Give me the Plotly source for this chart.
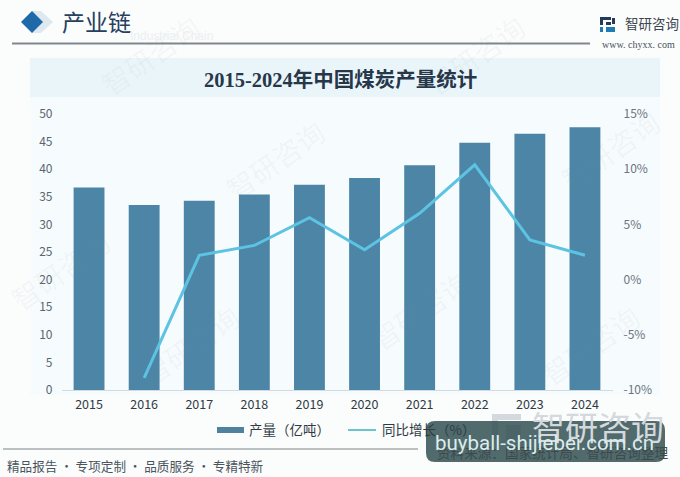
import plotly.graph_objects as go

W, H = 680, 477

years = ["2015", "2016", "2017", "2018", "2019", "2020", "2021", "2022", "2023", "2024"]
output_values = [36.7, 33.5, 34.3, 35.4, 37.2, 38.4, 40.7, 44.8, 46.4, 47.6]
growth_values = [None, -8.9, 2.2, 3.1, 5.6, 2.7, 6.0, 10.4, 3.6, 2.2]
left_ticks = [0, 5, 10, 15, 20, 25, 30, 35, 40, 45, 50]
right_ticks = [-10, -5, 0, 5, 10, 15]
right_tick_labels = ["-10%", "-5%", "0%", "5%", "10%", "15%"]

output_name = "产量（亿吨）"
growth_name = "同比增长（%）"
chart_title = "2015-2024年中国煤炭产量统计"
section_title = "产业链"
section_ghost = "Industrial Chain"
footer_text = "精品报告 · 专项定制 · 品质服务 · 专精特新"
source_text = "资料来源：国家统计局、智研咨询整理"
overlay_text = "buyball-shijiebei.com.cn"
brand = "智研咨询"
brand_site = "www. chyxx. com"
watermark_spots = [(150, 55), (275, 160), (475, 55), (610, 150),
                   (60, 270), (420, 310), (190, 345), (590, 345)]

SANS = "Noto Sans CJK SC"
SERIF = "Liberation Serif, Noto Sans CJK SC"


def px(x):
    return x / W


def py(y):
    return 1 - y / H


def rect(x0, y0, x1, y1, color, layer="below"):
    return dict(type="rect", xref="paper", yref="paper", x0=px(x0), x1=px(x1),
                y0=py(y0), y1=py(y1), fillcolor=color, line_width=0, layer=layer)


def label(x, y, text, size, color, font=SANS, anchor="center", angle=0, **kw):
    return dict(xref="paper", yref="paper", x=px(x), y=py(y), text=text, showarrow=False,
                xanchor=anchor, yanchor="middle", textangle=angle,
                font=dict(family=font, size=size, color=color), **kw)


def rounded_path(x0, y0, x1, y1, r):
    # rounded rectangle in paper fractions, radius given in pixels
    rx, ry = r / W, r / H
    a, b, c, d = px(x0), px(x1), py(y0), py(y1)
    return (f"M{a + rx},{c} L{b - rx},{c} Q{b},{c} {b},{c - ry} L{b},{d + ry} Q{b},{d} {b - rx},{d} "
            f"L{a + rx},{d} Q{a},{d} {a},{d + ry} L{a},{c - ry} Q{a},{c} {a + rx},{c} Z")


fig = go.Figure()
fig.add_bar(x=years, y=output_values, name=output_name, marker=dict(color="#4d85a6", line_width=0),
            yaxis="y", showlegend=False)
fig.add_scatter(x=years, y=growth_values, name=growth_name, mode="lines", yaxis="y2",
                line=dict(color="#5cc3e2", width=3), showlegend=False)

shapes = [
    rect(30, 58, 660, 97, "#eaf5fa"),
    rect(30, 97, 660, 395, "#f6fbfd"),
    rect(12, 42.5, 590, 44.5, "#7f878d"),
    rect(3, 448.5, 418, 449.5, "#7d858a"),
    dict(type="path", xref="paper", yref="paper", layer="below", line_width=0, fillcolor="#dfe8ef",
         path=f"M{px(32)},{py(11)} L{px(41)},{py(11)} L{px(53)},{py(22)} L{px(41)},{py(33)} L{px(32)},{py(33)} Z"),
    dict(type="path", xref="paper", yref="paper", layer="below", line_width=0, fillcolor="#1f69a8",
         path=f"M{px(21)},{py(22)} L{px(32)},{py(11)} L{px(43)},{py(22)} L{px(32)},{py(33)} Z"),
    # legend swatches
    rect(217, 427, 244, 433, "#4f829c"),
    rect(348, 429, 376, 431, "#6cc5cc"),
    # logo mark
    rect(600, 17, 603, 25, "#243a5a"),
    rect(600, 17, 611, 20, "#243a5a"),
    rect(606, 22, 611, 25, "#243a5a"),
    rect(612, 18, 615, 24, "#243a5a"),
    rect(600, 27, 603, 32, "#1f7ab8"),
    rect(606, 27, 615, 32, "#1f7ab8"),
    # faint logo behind the caption plate
    rect(492, 414, 521, 420, "#d3d9dd"),
    rect(492, 414, 498, 440, "#d3d9dd"),
    rect(506, 425, 521, 440, "#d3d9dd"),
    # translucent caption plate
    dict(type="path", xref="paper", yref="paper", layer="above", line_width=0,
         fillcolor="rgba(48,78,80,0.84)", path=rounded_path(426, 421, 665, 462, 9)),
]

annotations = [label(x, y, brand, 28, "rgba(120,135,150,0.06)", angle=-35) for x, y in watermark_spots]
annotations += [
    label(215, 36, section_ghost, 12, "#eceff1", font="Liberation Sans", anchor="right"),
    label(60, 24, section_title, 23, "#26405e", font=SERIF, anchor="left"),
    label(623, 23, brand, 13.5, "#3c4650", anchor="left"),
    label(677, 44, brand_site, 10, "#47525c", font="Liberation Serif", anchor="right"),
    label(340, 79, f"<b>{chart_title}</b>", 20.5, "#26374a", font=SERIF),
    label(5, 465, footer_text, 12.6, "#4a545c", anchor="left"),
    label(247, 429, output_name, 13.5, "#2f3b44", anchor="left"),
    label(380, 429, growth_name, 13.5, "#2f3b44", anchor="left"),
    label(530, 426, brand, 33, "#d3d9dd", anchor="left"),
    label(670, 452, source_text, 13.6, "#3d4a4c", anchor="right"),
    label(544.5, 443, overlay_text, 20.5, "#dcecec", font="Roboto"),
]

fig.update_layout(
    width=W, height=H, autosize=False,
    margin=dict(l=0, r=0, t=0, b=0, autoexpand=False),
    paper_bgcolor="#fbfcfc", plot_bgcolor="rgba(0,0,0,0)",
    bargap=0.44, shapes=shapes, annotations=annotations,
    font=dict(family=SANS, color="#4b5560", size=12),
    xaxis=dict(domain=[px(61.5), px(612.5)], type="category", showgrid=False, showline=True,
               linecolor="#d5dade", linewidth=1, ticks="", tickfont=dict(size=12.5, color="#2f3b44"),
               ticklabelstandoff=3),
    yaxis=dict(domain=[py(390), py(114)], range=[0, 50], tickvals=left_ticks, showgrid=False,
               zeroline=False, showline=False, ticks="", tickfont=dict(size=12, color="#5a6570"),
               ticklabelstandoff=8),
    yaxis2=dict(overlaying="y", side="right", anchor="x", range=[-10, 15], tickvals=right_ticks,
                ticktext=right_tick_labels, showgrid=False, zeroline=False, showline=False,
                ticks="", tickfont=dict(size=12, color="#6a7580"), ticklabelstandoff=10),
)

fig.write_html("out.html")
